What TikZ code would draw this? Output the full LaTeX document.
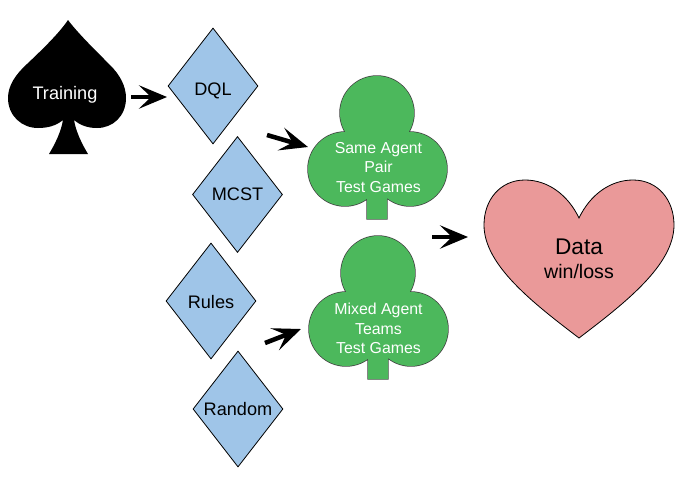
\documentclass[tikz,border=0pt]{standalone}
\usepackage{fontspec}
\setmainfont{Liberation Sans}
\usetikzlibrary{shapes.geometric,arrows.meta}
\definecolor{suitblue}{HTML}{9FC5E8}
\definecolor{suitgreen}{HTML}{4CB85C}
\definecolor{suitpink}{HTML}{EA9999}
\tikzset{
  clubshape/.pic={
    % outline first, the fill then hides the inner lines
    \draw[draw=black!75,line width=1.1pt] (0,-37) circle[radius=27.75pt] (-32,19) circle[radius=27.75pt] (33,19) circle[radius=27.75pt] (-10,40) rectangle (10,69);
    \fill[suitgreen] (0,-37) circle[radius=27.75pt] (-32,19) circle[radius=27.75pt] (33,19) circle[radius=27.75pt] (-10,10) rectangle (10,69);
    \fill[suitgreen] (-32,-5) rectangle (33,30);
  }
}
\begin{document}
\begin{tikzpicture}[
  x=.75pt, y=-.75pt,
  agent/.style={diamond, draw, fill=suitblue, line width=.6pt, inner sep=0pt, minimum width=67.5pt, minimum height=87pt, font=\fontsize{13.6pt}{16pt}\selectfont},
  clubtext/.style={text=white, align=center, font=\fontsize{11.9pt}{14.5pt}\selectfont},
  bigarrow/.style={-{Stealth[length=21pt,width=17.5pt,inset=9pt]}, line width=3.4pt}
]
\useasboundingbox (0,0) rectangle (689,476);

% Spade
\fill[black] (68,20) .. controls (60,32) and (45,47) .. (27,64) .. controls (15,75) and (8,86) .. (8,98)
  .. controls (8,116) and (22,128) .. (38,128) .. controls (47,128) and (56,126) .. (63,120)
  .. controls (61,132) and (55,144) .. (49,154) -- (88,154) .. controls (82,144) and (76,132) .. (74,120)
  .. controls (81,126) and (89,128) .. (97,128) .. controls (113,128) and (126,116) .. (126,98)
  .. controls (126,86) and (120,75) .. (110,65) .. controls (92,47) and (77,32) .. (68,20) -- cycle;
\node[text=white, font=\fontsize{13.6pt}{16pt}\selectfont] (training) at (65,95) {Training};

% Diamonds
\node[agent, text height=13.5pt, text depth=0pt] (dql) at (213,86) {DQL};
\node[agent] (mcst) at (237.5,194.5) {MCST};
\node[agent, text height=11pt, text depth=0pt] (rules) at (211,301) {Rules};
\node[agent] (random) at (238,409) {Random};

% Clubs
\pic at (377,150) {clubshape};
\pic at (378,310) {clubshape};
\node[clubtext] (same) at (378.5,167.5) {Same Agent\\Pair\\Test Games};
\node[clubtext] (mixed) at (378.5,328.5) {Mixed Agent\\Teams\\Test Games};

% Heart
\draw[fill=suitpink, line width=.6pt] (579,218) .. controls (590,195) and (610,180) .. (633,180)
  .. controls (658,180) and (674,200) .. (674,225) .. controls (674,265) and (625,303) .. (579,338)
  .. controls (533,303) and (484,265) .. (484,225) .. controls (484,200) and (500,180) .. (525,180)
  .. controls (548,180) and (568,195) .. (579,218) -- cycle;
\node[align=center, font=\fontsize{14.7pt}{18pt}\selectfont] (data) at (579,259) {{\fontsize{17pt}{20pt}\selectfont Data}\\win/loss};

% Arrows
\coordinate (a1) at (131,97);
\coordinate (b1) at (167,97);
\coordinate (a2) at (267,135);
\coordinate (b2) at (308,147);
\coordinate (a3) at (265,343);
\coordinate (b3) at (301,329);
\coordinate (a4) at (432,237);
\coordinate (b4) at (468,237);
\draw[bigarrow] (a1) -- (b1);
\draw[bigarrow] (a2) -- (b2);
\draw[bigarrow] (a3) -- (b3);
\draw[bigarrow] (a4) -- (b4);
\end{tikzpicture}
\end{document}
